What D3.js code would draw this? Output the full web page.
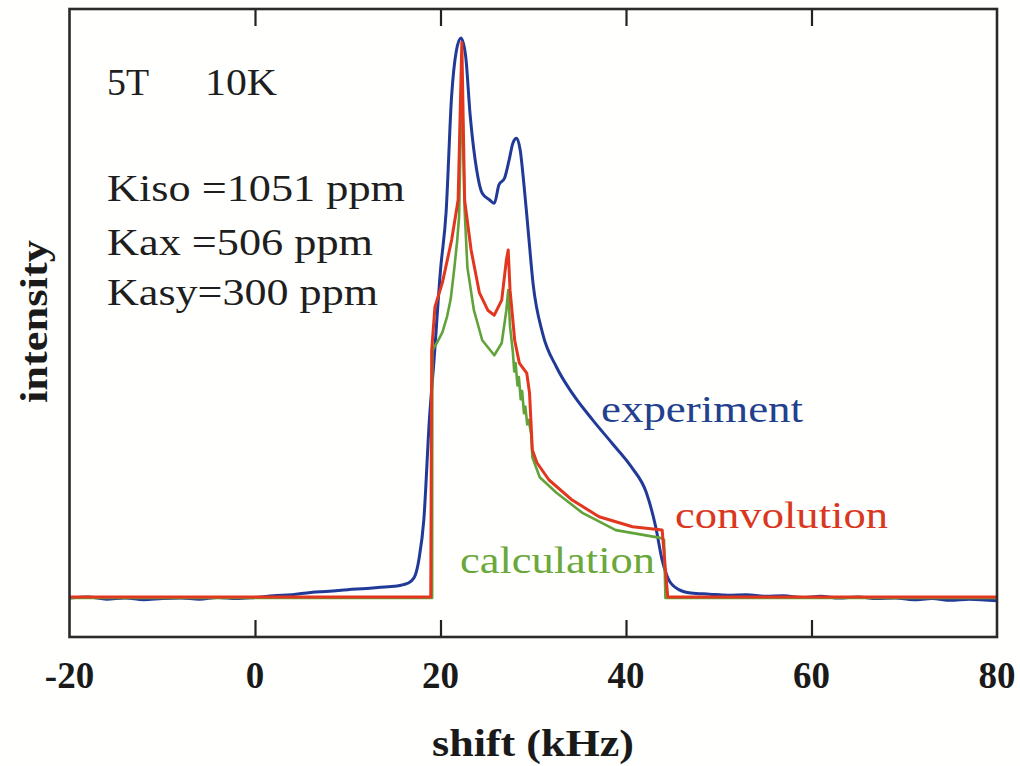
<!DOCTYPE html>
<html>
<head>
<meta charset="utf-8">
<script src="https://cdn.jsdelivr.net/npm/d3@7"></script>
<style>
  html, body { margin: 0; padding: 0; background: #fffffd; }
  svg { display: block; }
  text { font-family: "Liberation Serif", "Times New Roman", serif; }
</style>
</head>
<body>
<svg id="chart" width="1020" height="766"></svg>
<script>
// NMR line shape at 5 T, 10 K: measured spectrum, powder-pattern calculation and its convolution
const xTicks = [-20, 0, 20, 40, 60, 80];

// experiment: [shift kHz, intensity]
const experiment = [
  [-20, -0.002], [-18, 0.000], [-16, -0.004], [-14, -0.002], [-12, -0.005], [-10, -0.003],
  [-8, -0.002], [-6, -0.004], [-4, -0.001], [-2, -0.003], [0, -0.001], [2, 0.002],
  [4, 0.004], [6, 0.008], [8, 0.010], [10, 0.013], [12, 0.015], [14, 0.018], [15, 0.019],
  [16, 0.022], [16.8, 0.028], [17.3, 0.040], [17.7, 0.070], [18.2, 0.138], [18.8, 0.318],
  [19.3, 0.425], [20.0, 0.587], [20.6, 0.690], [21.2, 0.900], [21.7, 0.980], [22.2, 1.004],
  [22.7, 0.973], [23.2, 0.865], [23.9, 0.767], [24.5, 0.725], [25.3, 0.713], [25.8, 0.707],
  [26.3, 0.740], [26.9, 0.752], [27.4, 0.785], [27.8, 0.815], [28.2, 0.824], [28.6, 0.802],
  [29.0, 0.740], [29.4, 0.668], [30.0, 0.560], [31.0, 0.474], [32.5, 0.413], [34.2, 0.366],
  [36.4, 0.318], [38.5, 0.276], [40.6, 0.233], [42.2, 0.187], [43.2, 0.126], [43.9, 0.066],
  [44.6, 0.031], [45.7, 0.013], [47, 0.007], [49, 0.005], [51, 0.003], [53, 0.004],
  [55, 0.001], [57, 0.002], [59, -0.001], [61, 0.001], [63, -0.002], [65, 0.000],
  [67, -0.003], [69, -0.002], [71, -0.005], [73, -0.003], [75, -0.006], [77, -0.004], [80, -0.007]
];

// calculation: [shift kHz, intensity]
const calculation = [
  [-20, -0.002], [19.1, -0.002], [19.12, 0.443], [19.6, 0.456], [20.2, 0.475], [20.7, 0.503],
  [21.1, 0.535], [21.5, 0.592], [21.8, 0.640], [22.0, 0.682], [22.3, 0.930], [22.6, 0.695],
  [22.9, 0.592], [23.6, 0.515], [24.5, 0.461], [25.8, 0.434], [26.6, 0.456], [27.1, 0.515],
  [27.3, 0.551], [27.5, 0.485], [27.8, 0.440], [27.95, 0.405], [28.1, 0.420], [28.3, 0.380],
  [28.45, 0.395], [28.65, 0.355], [28.8, 0.370], [29.0, 0.330], [29.15, 0.342], [29.35, 0.310],
  [29.5, 0.318], [29.8, 0.290], [29.9, 0.251], [30.7, 0.215], [32.5, 0.187], [35.3, 0.151],
  [38.9, 0.120], [43.7, 0.106], [44.1, 0.103], [44.25, -0.002], [80, -0.002]
];

// convolution: [shift kHz, intensity]
const convolution = [
  [-20, 0], [18.95, 0], [19.05, 0.443], [19.4, 0.521], [20.2, 0.564], [21.2, 0.641],
  [21.9, 0.713], [22.3, 0.996], [22.6, 0.713], [23.3, 0.623], [24.2, 0.546], [25.1, 0.515],
  [25.8, 0.506], [26.6, 0.533], [27.1, 0.605], [27.3, 0.623], [27.5, 0.551], [28.0, 0.461],
  [28.5, 0.420], [29.3, 0.402], [29.6, 0.366], [29.9, 0.264], [30.4, 0.241], [31.7, 0.210],
  [34.2, 0.174], [37.1, 0.144], [40.7, 0.126], [43.9, 0.120], [44.5, 0], [80, 0]
];

const svg = d3.select("#chart");
const frame = { left: 69.5, right: 997, top: 9, bottom: 637 };

const x = d3.scaleLinear().domain([-20, 80]).range([frame.left, frame.right]);
const y = d3.scaleLinear().domain([-0.072, 1.056]).range([frame.bottom, frame.top]);

const sharpLine = d3.line().x(d => x(d[0])).y(d => y(d[1])).curve(d3.curveLinear);
const smoothLine = d3.line().x(d => x(d[0])).y(d => y(d[1])).curve(d3.curveMonotoneX);

const plot = svg.append("g");

plot.append("path").datum(experiment)
  .attr("d", smoothLine).attr("fill", "none")
  .attr("stroke", "#213a98").attr("stroke-width", 3).attr("stroke-linejoin", "round");

plot.append("path").datum(calculation)
  .attr("d", sharpLine).attr("fill", "none")
  .attr("stroke", "#62a23a").attr("stroke-width", 2.6).attr("stroke-linejoin", "round");

plot.append("path").datum(convolution)
  .attr("d", sharpLine).attr("fill", "none")
  .attr("stroke", "#e2361f").attr("stroke-width", 3).attr("stroke-linejoin", "round");

// axes: inward ticks on bottom and top, labels only at the bottom
const inner = xTicks.filter(t => t > -20 && t < 80);
const bottomAxis = d3.axisBottom(x).tickValues(inner).tickSize(-17).tickFormat("");
const topAxis = d3.axisTop(x).tickValues(inner).tickSize(-17).tickFormat("");

const gb = svg.append("g").attr("transform", `translate(0,${frame.bottom})`).call(bottomAxis);
const gt = svg.append("g").attr("transform", `translate(0,${frame.top})`).call(topAxis);
[gb, gt].forEach(g => {
  g.select(".domain").remove();
  g.selectAll(".tick line").attr("stroke", "#222").attr("stroke-width", 2.2);
});

svg.append("rect")
  .attr("x", frame.left).attr("y", frame.top)
  .attr("width", frame.right - frame.left).attr("height", frame.bottom - frame.top)
  .attr("fill", "none").attr("stroke", "#2a2a2a").attr("stroke-width", 2.6);

svg.append("g").selectAll("text").data(xTicks).join("text")
  .attr("x", d => x(d)).attr("y", 688)
  .attr("text-anchor", "middle")
  .attr("font-size", 37).attr("font-weight", "bold").attr("fill", "#1a1a1a")
  .text(d => d);

svg.append("text")
  .attr("x", 432).attr("y", 756)
  .attr("font-size", 38).attr("font-weight", "bold").attr("fill", "#1a1a1a")
  .attr("textLength", 202).attr("lengthAdjust", "spacingAndGlyphs")
  .text("shift (kHz)");

svg.append("text")
  .attr("transform", "translate(47,403) rotate(-90)")
  .attr("font-size", 38).attr("font-weight", "bold").attr("fill", "#1a1a1a")
  .attr("textLength", 163).attr("lengthAdjust", "spacingAndGlyphs")
  .text("intensity");

// annotations: [text, x, baseline, width]
const notes = [
  ["5T", 107, 95, 42],
  ["10K", 205, 95, 72],
  ["Kiso =1051 ppm", 107, 201, 298],
  ["Kax =506 ppm", 107, 255, 266],
  ["Kasy=300 ppm", 107, 305, 271]
];
svg.append("g").selectAll("text").data(notes).join("text")
  .attr("x", d => d[1]).attr("y", d => d[2])
  .attr("font-size", 38).attr("fill", "#1e1e1e")
  .attr("textLength", d => d[3]).attr("lengthAdjust", "spacingAndGlyphs")
  .text(d => d[0]);

// series labels: [text, x, baseline, width, colour]
const seriesLabels = [
  ["experiment", 601, 422, 202, "#22408e"],
  ["convolution", 675, 528, 213, "#d9381f"],
  ["calculation", 460, 573, 195, "#6aa83c"]
];
svg.append("g").selectAll("text").data(seriesLabels).join("text")
  .attr("x", d => d[1]).attr("y", d => d[2])
  .attr("font-size", 38).attr("fill", d => d[4])
  .attr("textLength", d => d[3]).attr("lengthAdjust", "spacingAndGlyphs")
  .text(d => d[0]);
</script>
</body>
</html>
